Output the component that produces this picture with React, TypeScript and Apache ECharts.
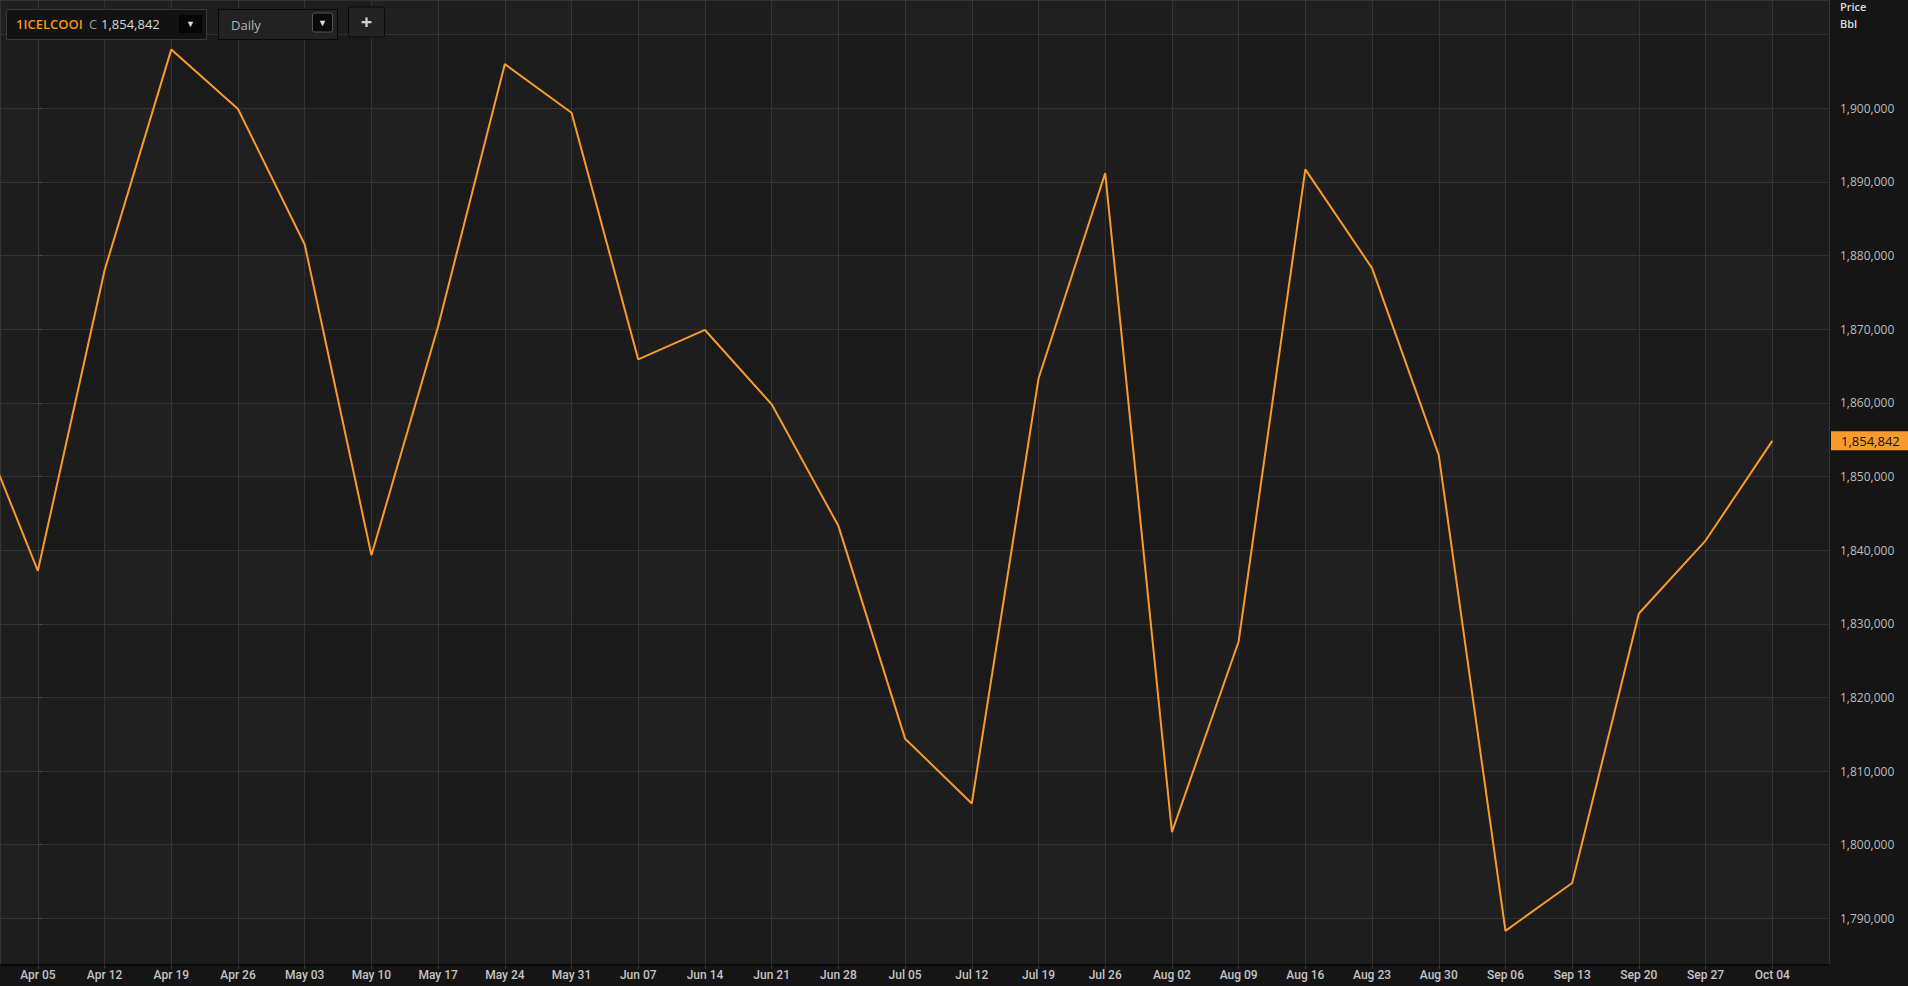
import React, { useEffect, useRef } from "react";
import * as echarts from "echarts";

// Week labels; the first (Mar 29) lies just left of the visible window
const weekLabels = [
  "Mar 29", "Apr 05", "Apr 12", "Apr 19", "Apr 26", "May 03", "May 10", "May 17",
  "May 24", "May 31", "Jun 07", "Jun 14", "Jun 21", "Jun 28", "Jul 05", "Jul 12",
  "Jul 19", "Jul 26", "Aug 02", "Aug 09", "Aug 16", "Aug 23", "Aug 30", "Sep 06",
  "Sep 13", "Sep 20", "Sep 27", "Oct 04",
];

const prices = [
  1859700, 1837200, 1878000, 1908000, 1899900, 1881500, 1839300, 1870400,
  1906000, 1899400, 1865900, 1869900, 1859800, 1843300, 1814400, 1805600,
  1863300, 1891200, 1801700, 1827600, 1891700, 1878300, 1852900, 1788300,
  1794800, 1831400, 1841300, 1854842,
];

const lastPrice = 1854842;
const symbolName = "1ICELCOOI";
const periodName = "Daily";

const xMin = -0.568;
const xMax = 26.85;
const yMin = 1783664;
const yMax = 1914707;
const yLabelMax = 1900000;

const fmt = (v: number) => Math.round(v).toLocaleString("en-US");

export default function App() {
  const ref = useRef<HTMLDivElement>(null);
  useEffect(() => {
    if (!ref.current) return;
    const chart = echarts.init(ref.current, null, { renderer: "svg" });
    const seriesData = prices.map((p, i) => [i - 1, p]);
    const font = "'Open Sans', sans-serif";
    chart.setOption({
      animation: false,
      backgroundColor: "#151515",
      grid: {
        left: 0,
        top: 0,
        right: 79,
        bottom: 21,
        show: true,
        backgroundColor: "#1c1c1c",
        borderWidth: 0,
      },
      xAxis: {
        type: "value",
        min: xMin,
        max: xMax,
        minInterval: 1,
        maxInterval: 1,
        axisLine: { show: true, lineStyle: { color: "#0a0a0a", width: 2 } },
        axisTick: { show: true, length: 4, lineStyle: { color: "#3a3a3a" } },
        axisLabel: {
          showMinLabel: false,
          showMaxLabel: false,
          color: "#c4c4c4",
          fontFamily: "Roboto, sans-serif",
          fontWeight: 500,
          fontSize: 12,
          margin: 4,
          formatter: (v: number) => {
            const i = Math.round(v);
            if (Math.abs(v - i) > 1e-6) return "";
            return weekLabels[i + 1] ?? "";
          },
        },
        splitLine: { show: true, lineStyle: { color: "#333333", width: 1 } },
        splitArea: {
          show: true,
          areaStyle: { color: ["rgba(255,255,255,0.012)", "rgba(0,0,0,0.03)"] },
        },
      },
      yAxis: {
        type: "value",
        position: "right",
        min: yMin,
        max: yMax,
        minInterval: 10000,
        maxInterval: 10000,
        axisLine: { show: true, lineStyle: { color: "#3a3a3a", width: 1 } },
        axisTick: { show: true, length: 4, lineStyle: { color: "#4a4a4a" } },
        axisLabel: {
          showMinLabel: false,
          showMaxLabel: false,
          color: "#bdbdbd",
          fontFamily: font,
          fontSize: 12,
          margin: 11,
          formatter: (v: number) => (v > yLabelMax + 1 ? "" : fmt(v)),
        },
        splitLine: { show: true, lineStyle: { color: "#323232", width: 1 } },
        splitArea: {
          show: true,
          areaStyle: { color: ["rgba(0,0,0,0.02)", "rgba(255,255,255,0.01)"] },
        },
      },
      series: [
        {
          type: "line",
          data: seriesData,
          showSymbol: false,
          clip: true,
          lineStyle: { color: "#f99a2c", width: 2 },
          markLine: {
            silent: true,
            symbol: "none",
            lineStyle: { color: "rgba(0,0,0,0)", width: 0, type: "solid" },
            data: [{ yAxis: lastPrice }],
            label: {
              show: true,
              position: "end",
              distance: 2,
              formatter: () => fmt(lastPrice),
              backgroundColor: "#f99a2c",
              color: "#111111",
              fontFamily: font,
              fontSize: 13,
              padding: [3, 14, 3, 10],
            },
          },
        },
      ],
      graphic: [
        // Price / Bbl header
        {
          type: "text",
          x: 1840,
          y: 1,
          z: 100,
          style: { text: "Price", fill: "#dddddd", font: `600 11px ${font}`, textVerticalAlign: "top" },
        },
        {
          type: "text",
          x: 1840,
          y: 18,
          z: 100,
          style: { text: "Bbl", fill: "#dddddd", font: `600 11px ${font}`, textVerticalAlign: "top" },
        },
        // Symbol box
        {
          type: "rect",
          z: 100,
          shape: { x: 6.5, y: 9.5, width: 200, height: 30 },
          style: { fill: "#121212", stroke: "#3a3a3a", lineWidth: 1 },
        },
        {
          type: "text",
          z: 101,
          x: 16,
          y: 24,
          style: { text: symbolName, fill: "#f7941d", font: `600 13px ${font}`, textVerticalAlign: "middle" },
        },
        {
          type: "text",
          z: 101,
          x: 89,
          y: 24,
          style: { text: "C", fill: "#9a9a9a", font: `13px ${font}`, textVerticalAlign: "middle" },
        },
        {
          type: "text",
          z: 101,
          x: 101,
          y: 24,
          style: { text: fmt(lastPrice), fill: "#d8d8d8", font: `13px ${font}`, textVerticalAlign: "middle" },
        },
        {
          type: "rect",
          z: 101,
          shape: { x: 179, y: 15, width: 23, height: 18 },
          style: { fill: "#050505" },
        },
        {
          type: "text",
          z: 102,
          x: 190.5,
          y: 23,
          style: { text: "▼", fill: "#dddddd", font: `9px ${font}`, textAlign: "center", textVerticalAlign: "middle" },
        },
        // Period box
        {
          type: "rect",
          z: 100,
          shape: { x: 218.5, y: 9.5, width: 119, height: 30 },
          style: { fill: "#222222", stroke: "#080808", lineWidth: 1 },
        },
        {
          type: "text",
          z: 101,
          x: 231,
          y: 24.5,
          style: { text: periodName, fill: "#b5b5b5", font: `13px ${font}`, textVerticalAlign: "middle" },
        },
        {
          type: "rect",
          z: 101,
          shape: { x: 312.5, y: 13, width: 20, height: 19, r: 2 },
          style: { fill: "#0a0a0a", stroke: "#555555", lineWidth: 1 },
        },
        {
          type: "text",
          z: 102,
          x: 322.5,
          y: 22.5,
          style: { text: "▼", fill: "#dddddd", font: `9px ${font}`, textAlign: "center", textVerticalAlign: "middle" },
        },
        // Plus button
        {
          type: "rect",
          z: 100,
          shape: { x: 348.5, y: 7, width: 36, height: 30, r: 2 },
          style: { fill: "#232323", stroke: "#0a0a0a", lineWidth: 1 },
        },
        {
          type: "text",
          z: 101,
          x: 366.5,
          y: 21,
          style: { text: "+", fill: "#d0d0d0", font: `bold 20px ${font}`, textAlign: "center", textVerticalAlign: "middle" },
        },
      ],
    });
    return () => chart.dispose();
  }, []);
  return (
    <div
      ref={ref}
      style={{ position: "fixed", left: 0, top: 0, width: 1908, height: 986 }}
    />
  );
}
